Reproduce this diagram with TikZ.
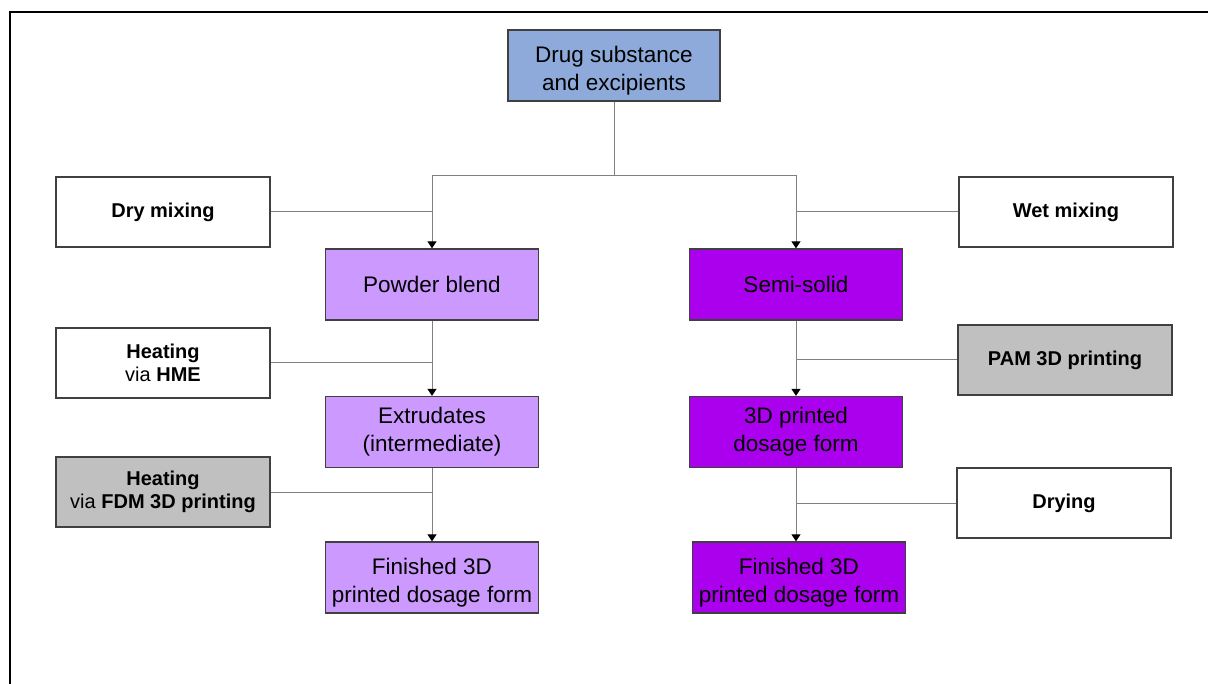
\documentclass[tikz,border=0pt]{standalone}
\usepackage{fontspec}
\setmainfont{Liberation Sans}
\usepackage{tikz}
\usepackage{xcolor}
\usetikzlibrary{arrows.meta}

\definecolor{drugblue}{RGB}{142,170,219}
\definecolor{blendlilac}{RGB}{204,153,255}
\definecolor{semipurple}{RGB}{170,0,238}
\definecolor{stepgrey}{RGB}{192,192,192}
\definecolor{edgegrey}{RGB}{64,64,64}

\newcommand{\lowtwo}[2]{\raisebox{-5pt}[\height][\depth]{\begin{tabular}{@{}c@{}}#1\\#2\end{tabular}}}

\tikzset{
  mainbox/.style={rectangle, draw=edgegrey, line width=1.3pt, minimum width=213pt, minimum height=71pt, align=center, inner sep=2pt, font=\fontsize{22.5}{28}\selectfont},
  sidebox/.style={rectangle, draw=edgegrey, line width=1.3pt, fill=white, minimum width=214pt, minimum height=70pt, align=center, inner sep=2pt, font=\fontsize{20}{23.5}\selectfont},
  link/.style={draw=gray, line width=1pt},
  linkarrow/.style={link, -{Triangle[width=9pt,length=7pt,black]}}
}

\begin{document}
\begin{tikzpicture}[x=1pt, y=-1pt]
\useasboundingbox (0,0) rectangle (1208,684);
% frame
\draw[line width=2pt] (10,684) -- (10,12) -- (1208,12);

% start
\node[mainbox, fill=drugblue, minimum width=212pt] (drug) at (614,65.5) {\lowtwo{Drug substance}{and excipients}};

% intermediate and final products
\node[mainbox, fill=blendlilac] (powder) at (432,284.5) {Powder blend};
\node[mainbox, fill=blendlilac] (extr) at (432,432) {Extrudates\\(intermediate)};
\node[mainbox, fill=blendlilac] (finL) at (432,577.5) {\lowtwo{Finished 3D}{printed dosage form}};
\node[mainbox, fill=semipurple] (semi) at (796,284.5) {Semi-solid};
\node[mainbox, fill=semipurple] (printed) at (796,432) {3D printed\\dosage form};
\node[mainbox, fill=semipurple] (finR) at (799,577.5) {\lowtwo{Finished 3D}{printed dosage form}};

% process steps
\node[sidebox] (dry) at (163,212) {\textbf{Dry mixing}};
\node[sidebox] (hme) at (163,363) {\textbf{Heating}\\via \textbf{HME}};
\node[sidebox, fill=stepgrey] (fdm) at (163,492) {\textbf{Heating}\\via \textbf{FDM 3D printing}};
\node[sidebox] (wet) at (1066,212) {\textbf{Wet mixing}};
\node[sidebox, fill=stepgrey] (pam) at (1065,360) {\textbf{PAM 3D printing}};
\node[sidebox] (drying) at (1064,503) {\textbf{Drying}};

% connectors
\draw[link] (drug.south) -- ++(0,74) coordinate (bus);
\draw[linkarrow] (bus) -| (powder.north);
\draw[linkarrow] (bus) -| (semi.north);
\draw[link] (dry.east) -- (dry.east -| powder.north);
\draw[link] (wet.west) -- (wet.west -| semi.north);

\draw[linkarrow] (powder.south) -- (extr.north);
\draw[link] (hme.east) -- (hme.east -| powder.south);
\draw[linkarrow] (extr.south) -- (finL.north);
\draw[link] (fdm.east) -- (fdm.east -| extr.south);

\draw[linkarrow] (semi.south) -- (printed.north);
\draw[link] (pam.west) -- (pam.west -| semi.south);
\draw[linkarrow] (printed.south) -- (printed.south |- finR.north);
\draw[link] (drying.west) -- (drying.west -| printed.south);
\end{tikzpicture}
\end{document}
